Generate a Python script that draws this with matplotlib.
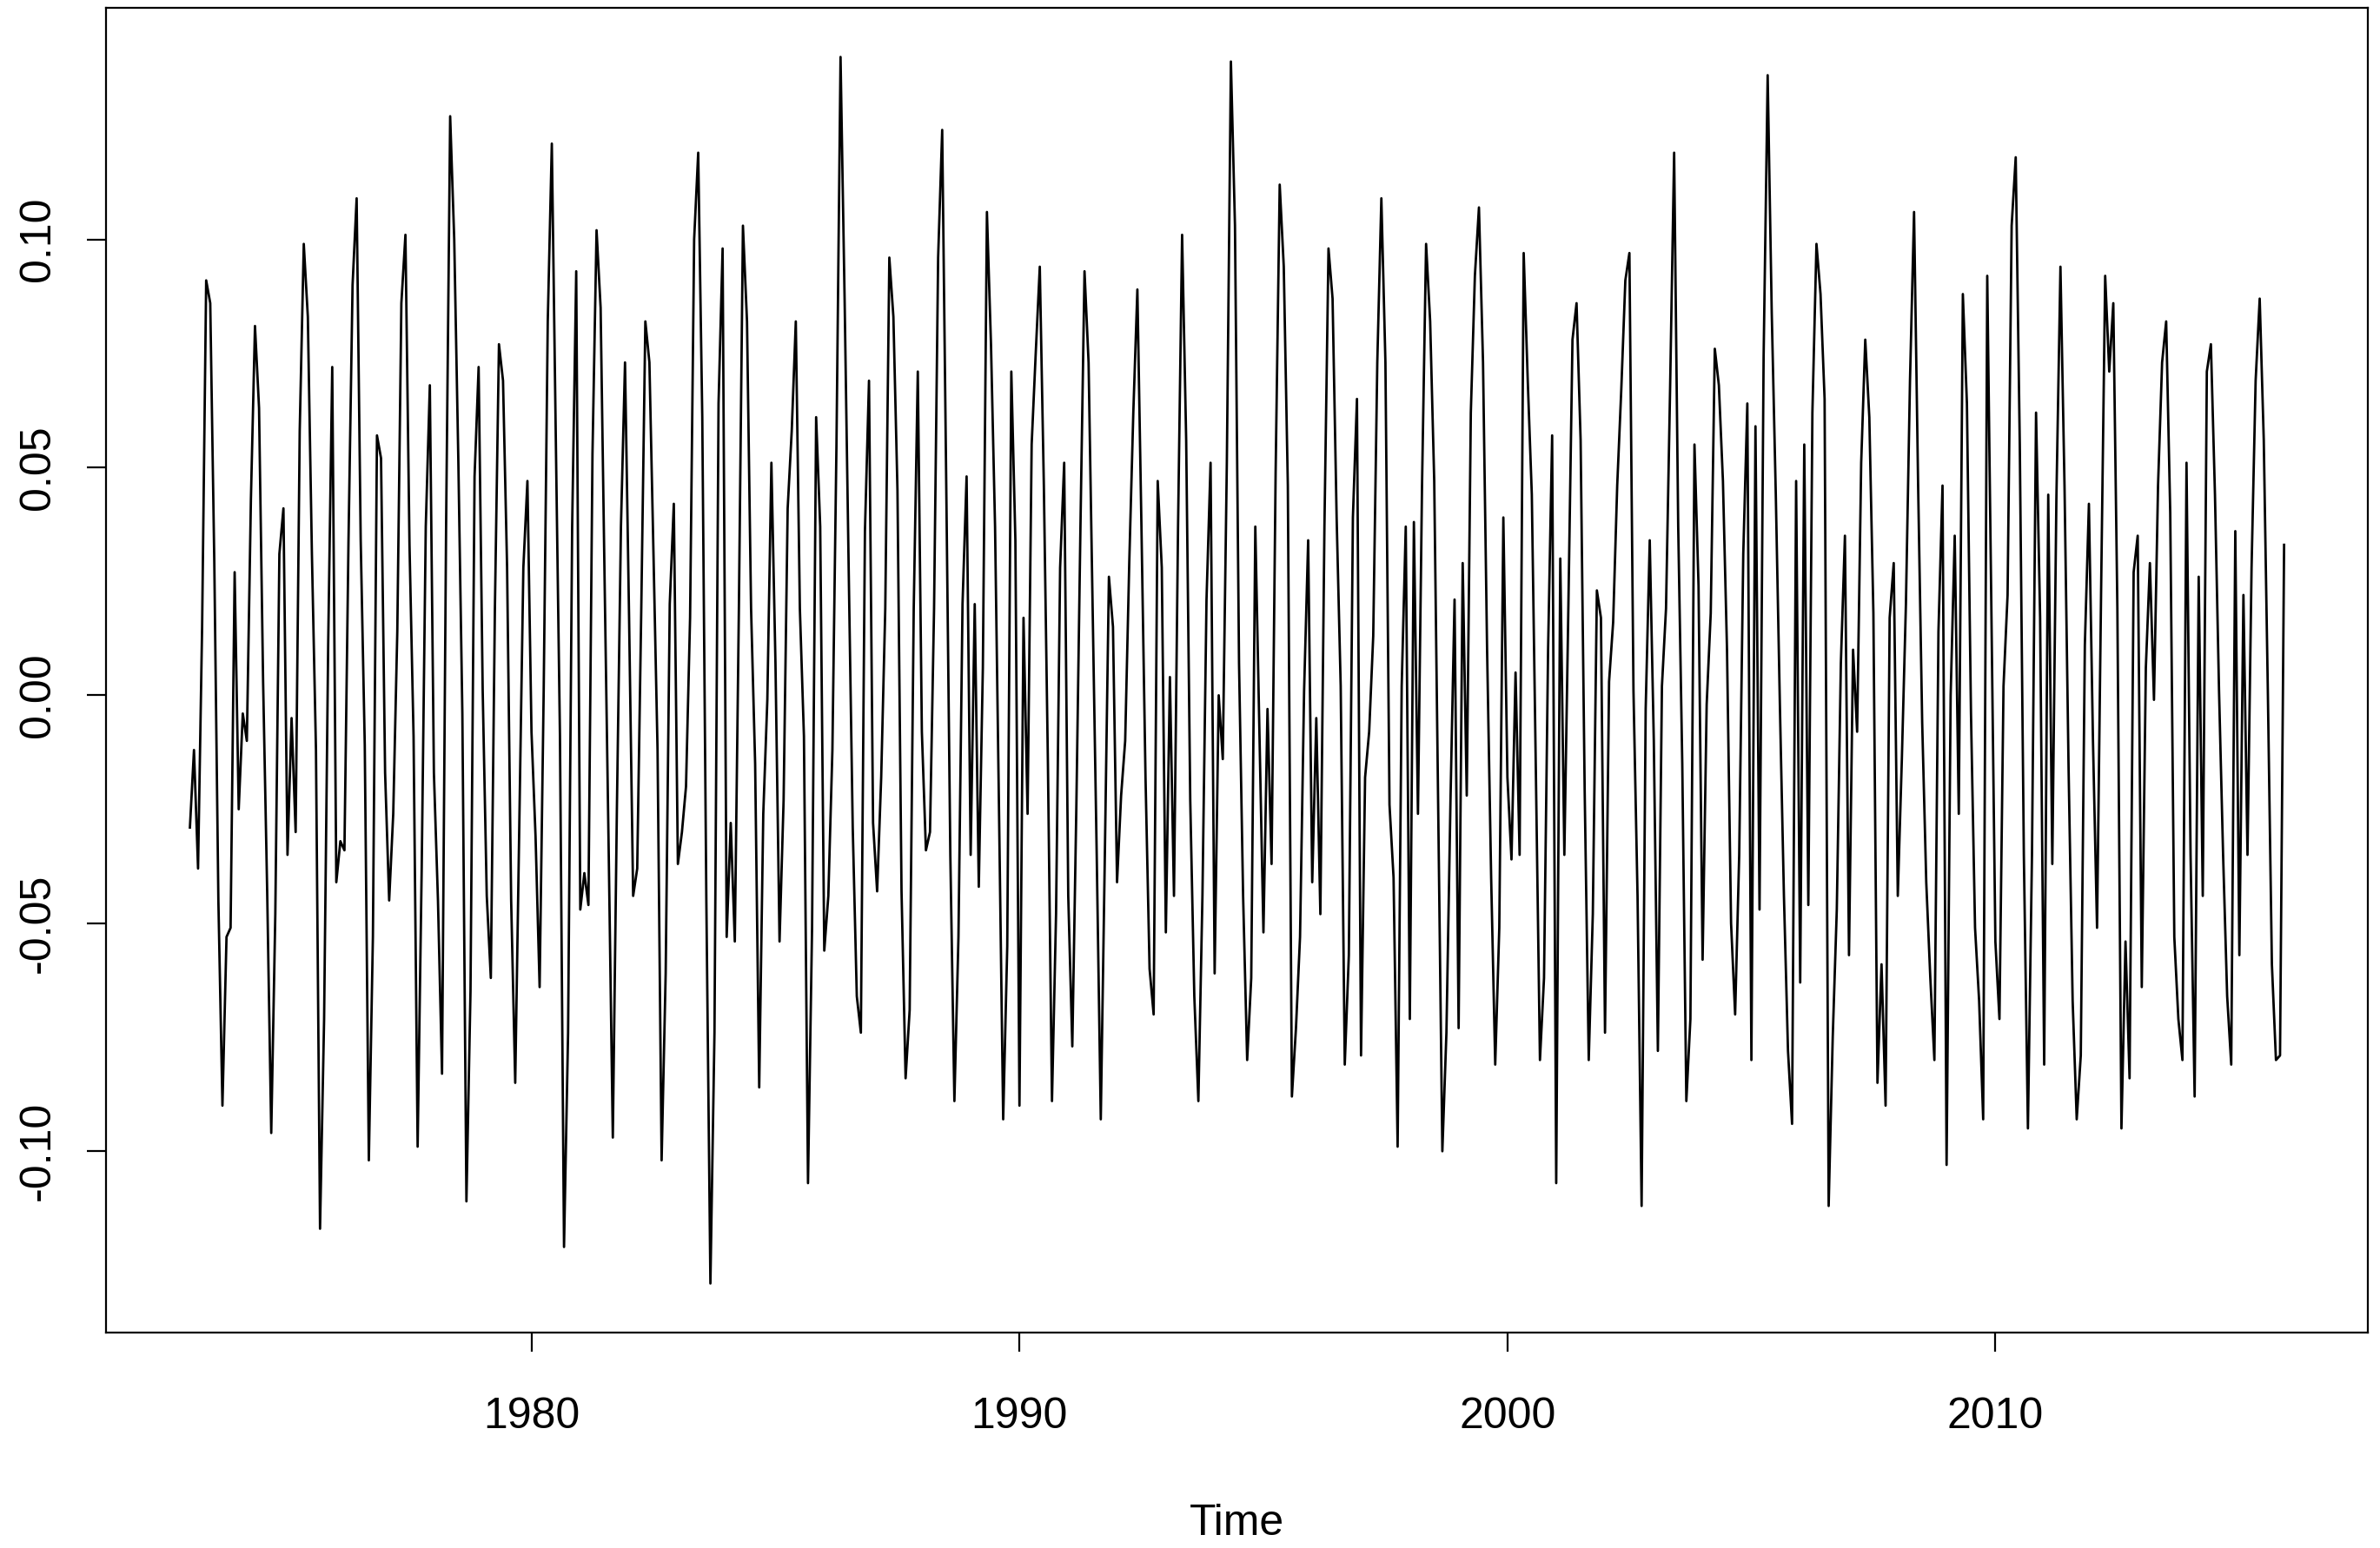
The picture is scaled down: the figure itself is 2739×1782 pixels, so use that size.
import numpy as np
import pandas as pd
import matplotlib
matplotlib.use('Agg')
import matplotlib.pyplot as plt

# monthly values, Jan 1973 .. Dec 2015
vals_1970s = [-0.029, -0.012, -0.038, 0.015, 0.091, 0.086, 0.029, -0.045, -0.090, -0.053, -0.051, 0.027,
              -0.025, -0.004, -0.010, 0.043, 0.081, 0.063, 0.003, -0.043, -0.096, -0.048, 0.031, 0.041,
              -0.035, -0.005, -0.030, 0.058, 0.099, 0.083, 0.031, -0.012, -0.117, -0.071, 0.011, 0.072,
              -0.041, -0.032, -0.034, 0.034, 0.090, 0.109, 0.034, -0.011, -0.102, -0.053, 0.057, 0.052,
              -0.017, -0.045, -0.026, 0.014, 0.086, 0.101, 0.033, -0.009, -0.099, -0.038, 0.037, 0.068,
              -0.017, -0.045, -0.083, 0.037, 0.127, 0.100, 0.052, -0.004, -0.111, -0.065, 0.048, 0.072,
              0.001, -0.044, -0.062, 0.019, 0.077, 0.069, 0.028, -0.045, -0.085, -0.029, 0.028, 0.047]

vals_1980s = [-0.008, -0.031, -0.064, 0.001, 0.082, 0.121, 0.055, -0.009, -0.121, -0.074, 0.037, 0.093,
              -0.047, -0.039, -0.046, 0.053, 0.102, 0.085, 0.024, -0.035, -0.097, -0.025, 0.037, 0.073,
              0.017, -0.044, -0.038, 0.019, 0.082, 0.073, 0.031, -0.012, -0.102, -0.061, 0.020, 0.042,
              -0.037, -0.030, -0.020, 0.017, 0.100, 0.119, 0.061, -0.045, -0.129, -0.074, 0.064, 0.098,
              -0.053, -0.028, -0.054, 0.019, 0.103, 0.082, 0.019, -0.015, -0.086, -0.026, -0.001, 0.051,
              0.007, -0.054, -0.023, 0.041, 0.058, 0.082, 0.019, -0.009, -0.107, -0.051, 0.061, 0.037,
              -0.056, -0.044, -0.012, 0.055, 0.140, 0.087, 0.028, -0.029, -0.066, -0.074, 0.036, 0.069,
              -0.028, -0.043, -0.018, 0.019, 0.096, 0.083, 0.045, -0.043, -0.084, -0.069, 0.019, 0.071,
              -0.008, -0.034, -0.030, 0.019, 0.096, 0.124, 0.046, -0.035, -0.089, -0.053, 0.020, 0.048,
              -0.035, 0.020, -0.042, 0.006, 0.106, 0.077, 0.037, -0.027, -0.093, -0.055, 0.071, 0.034]

vals_1990s = [-0.090, 0.017, -0.026, 0.055, 0.075, 0.094, 0.046, -0.015, -0.089, -0.048, 0.028, 0.051,
              -0.044, -0.077, -0.024, 0.037, 0.093, 0.073, 0.019, -0.035, -0.093, -0.035, 0.026, 0.015,
              -0.041, -0.022, -0.010, 0.029, 0.062, 0.089, 0.037, -0.018, -0.060, -0.070, 0.047, 0.028,
              -0.052, 0.004, -0.044, 0.037, 0.101, 0.056, -0.023, -0.066, -0.089, -0.044, 0.021, 0.051,
              -0.061, 0.000, -0.014, 0.051, 0.139, 0.103, 0.007, -0.044, -0.080, -0.062, 0.037, -0.008,
              -0.052, -0.003, -0.037, 0.049, 0.112, 0.094, 0.046, -0.088, -0.073, -0.053, 0.001, 0.034,
              -0.041, -0.005, -0.048, 0.037, 0.098, 0.087, 0.039, 0.002, -0.081, -0.057, 0.039, 0.065,
              -0.079, -0.018, -0.008, 0.013, 0.073, 0.109, 0.073, -0.024, -0.040, -0.099, 0.002, 0.037,
              -0.071, 0.038, -0.026, 0.046, 0.099, 0.082, 0.047, -0.026, -0.100, -0.074, -0.023, 0.021,
              -0.073, 0.029, -0.022, 0.062, 0.092, 0.107, 0.073, 0.010, -0.040, -0.081, -0.051, 0.039]

vals_2000s = [-0.018, -0.036, 0.005, -0.035, 0.097, 0.069, 0.044, -0.017, -0.080, -0.062, 0.010, 0.057,
              -0.107, 0.030, -0.035, 0.020, 0.078, 0.086, 0.056, -0.021, -0.080, -0.048, 0.023, 0.017,
              -0.074, 0.003, 0.016, 0.046, 0.067, 0.091, 0.097, 0.001, -0.044, -0.112, -0.003, 0.034,
              -0.010, -0.078, 0.002, 0.019, 0.067, 0.119, 0.037, -0.015, -0.089, -0.071, 0.055, 0.024,
              -0.058, -0.002, 0.018, 0.076, 0.068, 0.047, 0.010, -0.050, -0.070, -0.035, 0.031, 0.064,
              -0.080, 0.059, -0.047, 0.074, 0.136, 0.084, 0.044, -0.002, -0.044, -0.078, -0.094, 0.047,
              -0.063, 0.055, -0.046, 0.062, 0.099, 0.088, 0.065, -0.112, -0.075, -0.047, 0.007, 0.035,
              -0.057, 0.010, -0.008, 0.051, 0.078, 0.061, 0.018, -0.085, -0.059, -0.090, 0.017, 0.029,
              -0.044, -0.014, 0.020, 0.069, 0.106, 0.046, -0.006, -0.041, -0.062, -0.080, 0.014, 0.046,
              -0.103, 0.000, 0.035, -0.026, 0.088, 0.064, -0.004, -0.051, -0.067, -0.093, 0.092, 0.020]

vals_2010s = [-0.054, -0.071, 0.002, 0.022, 0.103, 0.118, 0.055, -0.035, -0.095, -0.035, 0.062, 0.017,
              -0.081, 0.044, -0.037, 0.043, 0.094, 0.046, -0.016, -0.067, -0.093, -0.079, 0.011, 0.042,
              -0.010, -0.051, 0.023, 0.092, 0.071, 0.086, 0.019, -0.095, -0.054, -0.084, 0.027, 0.035,
              -0.064, 0.006, 0.029, -0.001, 0.046, 0.073, 0.082, 0.040, -0.053, -0.071, -0.080, 0.051,
              -0.035, -0.088, 0.026, -0.044, 0.071, 0.077, 0.044, 0.001, -0.035, -0.066, -0.081, 0.036,
              -0.057, 0.022, -0.035, 0.028, 0.069, 0.087, 0.056, 0.001, -0.059, -0.080, -0.079, 0.033]

start_year = 1973
x_ticks = [1980, 1990, 2000, 2010]
y_ticks = [-0.10, -0.05, 0.00, 0.05, 0.10]

plt.rcParams['font.family'] = ['Liberation Sans', 'DejaVu Sans']
plt.rcParams['axes.unicode_minus'] = False


def build_series():
    values = vals_1970s + vals_1980s + vals_1990s + vals_2000s + vals_2010s
    t = start_year + np.arange(len(values)) / 12.0
    return pd.Series(values, index=t)


def plot_ts(s):
    fig = plt.figure(figsize=(27.39, 17.82), dpi=100)
    ax = fig.add_axes([0.0446, 0.1392, 0.9503, 0.8557])
    ax.plot(s.index, s.values, color='black', linewidth=2.0)
    ax.margins(x=0.04, y=0.04)

    ax.set_xticks(x_ticks)
    ax.set_xticklabels([str(v) for v in x_ticks])
    ax.set_yticks(y_ticks)
    ax.set_yticklabels(['%.2f' % v for v in y_ticks])
    ax.tick_params(axis='both', length=16, width=1.6, labelsize=36, color='black')
    ax.tick_params(axis='x', pad=37)
    ax.tick_params(axis='y', pad=24)
    plt.setp(ax.get_yticklabels(), rotation=90, va='center')
    for sp in ax.spines.values():
        sp.set_linewidth(1.6)

    fig.text(0.5197, 1 - 1754 / 1782, 'Time', ha='center', va='center', fontsize=36)
    fig.savefig('out.png', dpi=100, facecolor='white')
    plt.close(fig)


series = build_series()
plot_ts(series)
